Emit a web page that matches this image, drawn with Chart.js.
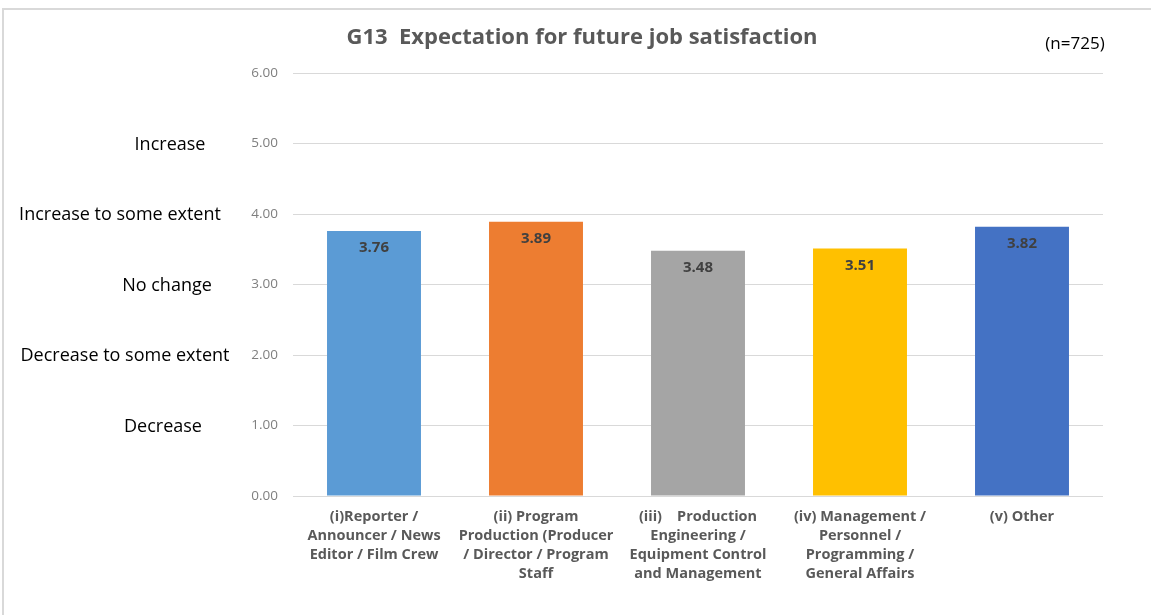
<!DOCTYPE html>
<html>
<head>
<meta charset="utf-8">
<script src="https://cdn.jsdelivr.net/npm/chart.js@4.4.1/dist/chart.umd.min.js"></script>
<style>
  html, body { margin: 0; padding: 0; background: #fff; }
  #wrap { position: relative; width: 1151px; height: 615px; }
  #frame { position: absolute; left: 2px; top: 8px; right: 0; bottom: 0;
           border-left: 2px solid #d9d9d9; border-top: 2px solid #d9d9d9; }
  #satChart { position: absolute; left: 0; top: 0; }
</style>
</head>
<body>
<div id="wrap">
  <div id="frame"></div>
  <canvas id="satChart" width="1151" height="615"></canvas>
</div>
<script>
// job groups (multi-line labels under the bars)
const categories = [
  ['(i)Reporter /', 'Announcer / News', 'Editor / Film Crew'],
  ['(ii) Program', 'Production (Producer', '/ Director / Program', 'Staff'],
  ['(iii)    Production', 'Engineering /', 'Equipment Control', 'and Management'],
  ['(iv) Management /', 'Personnel /', 'Programming /', 'General Affairs'],
  ['(v) Other']
];
// mean expectation score per group
const scores = [3.76, 3.89, 3.48, 3.51, 3.82];
const barColors = ['#5B9BD5', '#ED7D31', '#A5A5A5', '#FFC000', '#4472C4'];

// answer scale shown beside the axis
const levelNames = ['Decrease', 'Decrease to some extent', 'No change', 'Increase to some extent', 'Increase'];
const levelValues = [1, 2, 3, 4, 5];

const titleText = 'G13  Expectation for future job satisfaction';
const sampleNote = '(n=725)';

const ctx = document.getElementById('satChart');

// centre x for each answer-scale label (same order as levelNames)
const levelCenters = [163, 125, 167, 120, 170];

// title, sample note and the answer-scale captions
const sideText = {
  id: 'sideText',
  afterDraw(chart) {
    const c = chart.ctx;
    const y = chart.scales.y;
    c.save();
    c.textAlign = 'center';
    c.textBaseline = 'middle';

    c.font = 'bold 22px "Open Sans"';
    c.fillStyle = '#595959';
    c.fillText(titleText, 582, 38);

    c.fillStyle = '#000';
    c.font = '18px "Open Sans"';
    for (let i = 0; i < levelNames.length; i++) {
      c.fillText(levelNames[i], levelCenters[i], y.getPixelForValue(levelValues[i]) + 1);
    }

    c.font = '17px "Open Sans"';
    c.fillText(sampleNote, 1075, 44);
    c.restore();
  }
};

// value printed inside the top of each bar
const valueLabels = {
  id: 'valueLabels',
  afterDatasetsDraw(chart) {
    const c = chart.ctx;
    const meta = chart.getDatasetMeta(0);
    c.save();
    c.font = 'bold 15px "Open Sans"';
    c.fillStyle = '#404040';
    c.textAlign = 'center';
    c.textBaseline = 'middle';
    meta.data.forEach((bar, i) => {
      c.fillText(scores[i].toFixed(2), bar.x, bar.y + 17);
    });
    c.restore();
  }
};

new Chart(ctx, {
  type: 'bar',
  data: {
    labels: categories,
    datasets: [{
      data: scores,
      backgroundColor: barColors,
      borderWidth: 0,
      categoryPercentage: 1,
      barPercentage: 0.58
    }]
  },
  options: {
    responsive: false,
    animation: false,
    layout: { padding: { left: 0, right: 48, top: 73, bottom: 0 } },
    plugins: {
      legend: { display: false },
      tooltip: { enabled: false },
      title: { display: false }
    },
    scales: {
      x: {
        grid: { display: false, drawTicks: false },
        border: { display: false },
        ticks: {
          color: '#595959',
          font: { family: 'Open Sans', size: 14.5, weight: 'bold', lineHeight: 1.31 },
          padding: 11,
          maxRotation: 0,
          autoSkip: false
        },
        afterFit(scale) { scale.height = 119; }
      },
      y: {
        min: 0,
        max: 6,
        grid: { color: '#d9d9d9', drawTicks: false, lineWidth: 1 },
        border: { display: false },
        ticks: {
          stepSize: 1,
          color: '#7f7f7f',
          font: { family: 'Open Sans', size: 13.5 },
          padding: 15,
          callback: v => v.toFixed(2)
        },
        afterFit(scale) { scale.width = 293; }
      }
    }
  },
  plugins: [sideText, valueLabels]
});
</script>
</body>
</html>
